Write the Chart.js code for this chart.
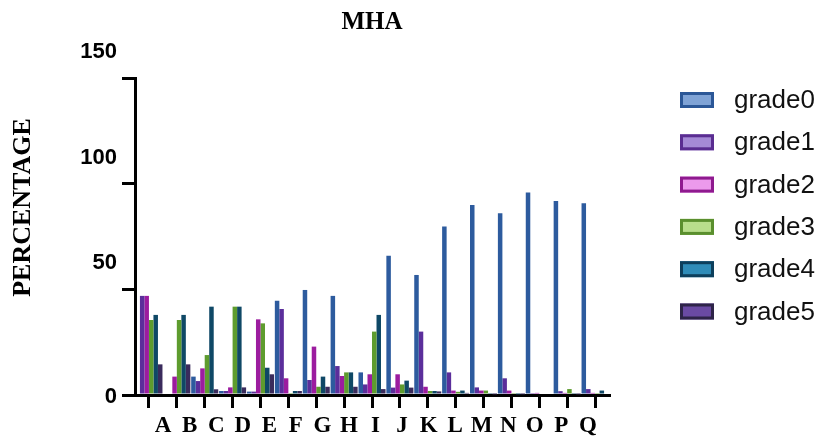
<!DOCTYPE html>
<html>
<head>
<meta charset="utf-8">
<script src="https://cdn.jsdelivr.net/npm/chart.js@4.4.1/dist/chart.umd.min.js"></script>
<style>
  html, body { margin: 0; padding: 0; background: #ffffff; }
  #c { display: block; }
</style>
</head>
<body>
<canvas id="c" width="819" height="437"></canvas>
<script>
// Categories along the x axis
const categories = ['A','B','C','D','E','F','G','H','I','J','K','L','M','N','O','P','Q'];

// Percentage of each grade per category
const grade0 = [0, 0, 8.7, 1.9, 1.6, 44.6, 49.7, 46.9, 10.7, 65.9, 56.8, 79.7, 89.9, 86.0, 95.8, 91.8, 90.7];
const grade1 = [46.9, 0, 6.6, 1.9, 1.6, 40.7, 7.1, 13.7, 5.0, 3.5, 30.0, 10.7, 3.6, 7.9, 0.5, 1.8, 2.8];
const grade2 = [46.9, 8.7, 12.6, 3.6, 35.8, 7.9, 22.9, 9.0, 9.8, 9.8, 3.9, 2.1, 2.1, 2.1, 1.0, 1.0, 1.0];
const grade3 = [35.5, 35.5, 18.9, 41.8, 33.9, 0.5, 3.9, 10.7, 30.0, 5.0, 1.9, 1.5, 2.1, 0.5, 0, 2.8, 0.5];
const grade4 = [37.9, 37.9, 41.8, 41.8, 12.9, 1.9, 8.7, 10.7, 37.9, 6.8, 1.9, 2.1, 0.5, 0.3, 0, 0.5, 2.1];
const grade5 = [14.5, 14.5, 2.7, 3.6, 9.8, 1.9, 3.9, 3.9, 2.8, 3.5, 1.7, 1.0, 0.3, 0.3, 0, 0.3, 0];

// Series names and y tick labels
const seriesNames = ['grade0', 'grade1', 'grade2', 'grade3', 'grade4', 'grade5'];
const yTickValues = [0, 50, 100, 150];

// Styling
const barColors     = ['#2d5b9e', '#5b2e9b', '#9c1c9f', '#5e9c2e', '#0f4866', '#3a2b5c'];
const legendFills   = ['#7fa3d6', '#a58ad6', '#ec9aec', '#b8de8c', '#2f8cb8', '#6a4aa3'];
const legendBorders = ['#2b5797', '#5a2d91', '#8f1a8f', '#5a8f2e', '#0d3f5c', '#2e2448'];

const seriesValues = [grade0, grade1, grade2, grade3, grade4, grade5];

const datasets = seriesNames.map((name, i) => ({
  label: name,
  data: seriesValues[i],
  backgroundColor: barColors[i],
  borderWidth: 0,
  barPercentage: 1.0,
  categoryPercentage: 0.97
}));

// Draws tick labels, the rotated axis title and the legend
const decorations = {
  id: 'decorations',
  afterDraw(chart) {
    const ctx = chart.ctx;
    const xs = chart.scales.x;
    const ys = chart.scales.y;
    ctx.save();
    ctx.fillStyle = '#000';

    // y tick labels
    ctx.font = 'bold 22px "Liberation Sans", Arial, sans-serif';
    ctx.textAlign = 'right';
    ctx.textBaseline = 'middle';
    yTickValues.forEach(v => {
      const y = ys.getPixelForValue(v) + (v > 0 ? -26 : 2);
      ctx.fillText(String(v), xs.left - 18, y);
    });

    // x category labels
    ctx.font = 'bold 23px "Liberation Serif", "Times New Roman", serif';
    ctx.textAlign = 'center';
    const mid = (xs.left + xs.right) / 2;
    categories.forEach((c, i) => {
      const tx = xs.getPixelForValue(i);
      const lx = mid + 3.5 + (tx - mid) * 0.952;
      ctx.fillText(c, lx, 426);
    });

    // y axis title
    ctx.save();
    ctx.translate(23, 207.5);
    ctx.rotate(-Math.PI / 2);
    ctx.font = 'bold 26px "Liberation Serif", "Times New Roman", serif';
    ctx.textAlign = 'center';
    ctx.textBaseline = 'middle';
    ctx.fillText('PERCENTAGE', 0, 0);
    ctx.restore();

    // legend
    ctx.font = '26px "Liberation Sans", Arial, sans-serif';
    ctx.textAlign = 'left';
    ctx.textBaseline = 'middle';
    chart.data.datasets.forEach((ds, i) => {
      const cy = 100 + i * 42.3;
      ctx.fillStyle = legendFills[i];
      ctx.fillRect(680, cy - 8, 34, 16);
      ctx.strokeStyle = legendBorders[i];
      ctx.lineWidth = 3;
      ctx.strokeRect(681.5, cy - 6.5, 31, 13);
      ctx.fillStyle = '#111';
      ctx.fillText(ds.label, 734, cy + 1);
    });
    ctx.restore();
  }
};

new Chart(document.getElementById('c'), {
  type: 'bar',
  data: { labels: categories, datasets: datasets },
  plugins: [decorations],
  options: {
    responsive: false,
    devicePixelRatio: 1,
    animation: false,
    layout: { padding: { left: 122, right: 210, top: 0, bottom: 29 } },
    plugins: {
      legend: { display: false },
      tooltip: { enabled: false },
      title: {
        display: true,
        text: 'MHA',
        fullSize: false,
        color: '#000',
        font: { family: '"Liberation Serif", "Times New Roman", serif', size: 25, weight: 'bold' },
        padding: { top: 8, bottom: 40 }
      }
    },
    scales: {
      x: {
        grid: { display: true, drawOnChartArea: false, drawTicks: true, tickLength: 13, lineWidth: 3, color: '#000', offset: false },
        border: { display: true, color: '#000', width: 3 },
        ticks: { display: false }
      },
      y: {
        min: 0,
        max: 150,
        grid: { display: true, drawOnChartArea: false, drawTicks: true, tickLength: 13, lineWidth: 3, color: '#000' },
        border: { display: true, color: '#000', width: 3 },
        ticks: { display: false, stepSize: 50 }
      }
    }
  }
});
</script>
</body>
</html>
